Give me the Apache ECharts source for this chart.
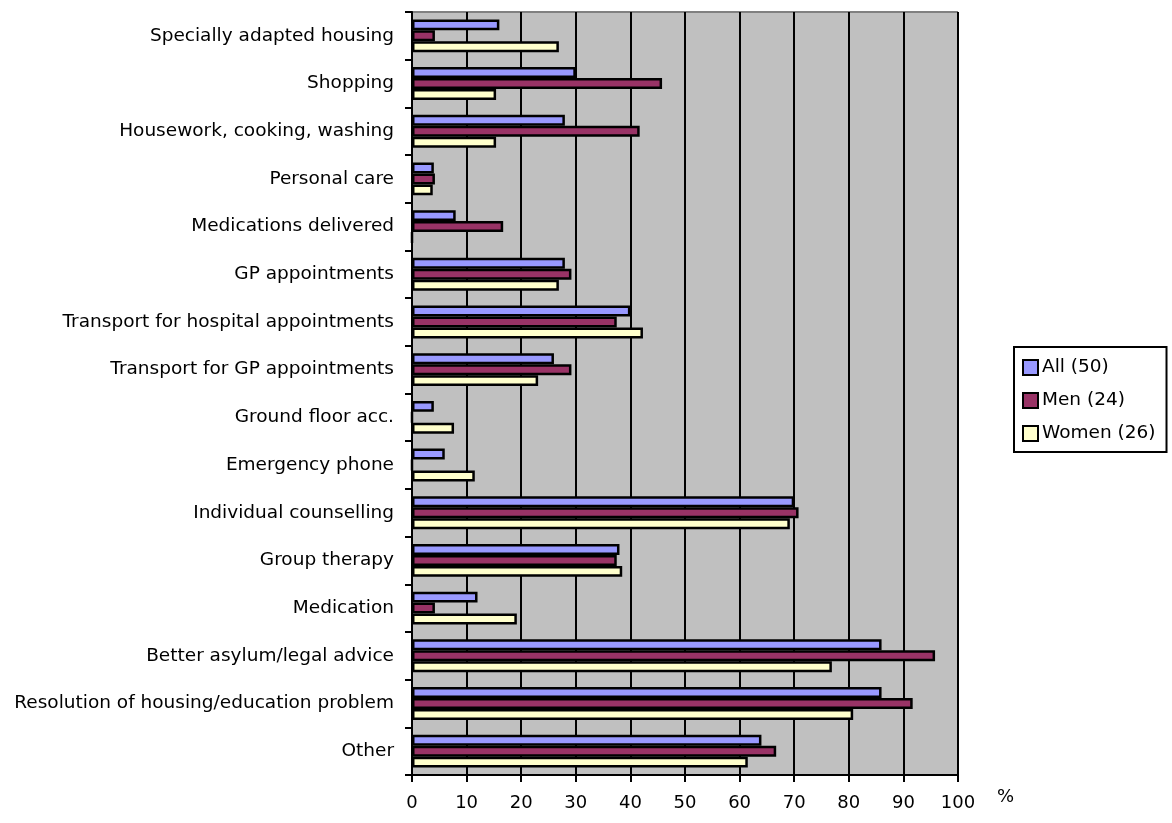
<!DOCTYPE html>
<html><head><meta charset="utf-8">
<script src="https://cdn.jsdelivr.net/npm/echarts@6/dist/echarts.min.js"></script>
<style>html,body{margin:0;padding:0;background:#fff}#c{width:1172px;height:823px}</style>
</head><body><div id="c"></div>
<script>
const categories = ["Specially adapted housing","Shopping","Housework, cooking, washing","Personal care","Medications delivered","GP appointments","Transport for hospital appointments","Transport for GP appointments","Ground floor acc.","Emergency phone","Individual counselling","Group therapy","Medication","Better asylum/legal advice","Resolution of housing/education problem","Other"];
const allVals   = [16, 30, 28, 4, 8, 28, 40, 26, 4, 6, 70, 38, 12, 86, 86, 64];
const menVals   = [4.2, 45.8, 41.7, 4.2, 16.7, 29.2, 37.5, 29.2, 0, 0, 70.8, 37.5, 4.2, 95.8, 91.7, 66.7];
const womenVals = [26.9, 15.4, 15.4, 3.8, 0, 26.9, 42.3, 23.1, 7.7, 11.5, 69.2, 38.5, 19.2, 76.9, 80.8, 61.5];
const seriesNames = ["All (50)", "Men (24)", "Women (26)"];
const colors = ["#9999FF", "#993366", "#FFFFCC"];
const xTicks = [0,10,20,30,40,50,60,70,80,90,100];

const font = "DejaVu Sans";
const chart = echarts.init(document.getElementById('c'), null, {renderer:'canvas'});
const mk = (name, data, i) => ({
  name, type:'bar', data, barGap:'0%', barCategoryGap:'31%',
  itemStyle:{color:colors[i], borderColor:'#000', borderWidth:2.5},
  emphasis:{disabled:true}, animation:false
});
chart.setOption({
  animation:false,
  textStyle:{fontFamily:font},
  grid:{left:412, top:12, width:546, height:763, backgroundColor:'#C0C0C0', show:true, borderColor:'#808080', borderWidth:0},
  legend:{
    orient:'vertical', left:1014, top:347, itemWidth:15, itemHeight:15, itemGap:12,
    padding:[10,11,8,8], borderColor:'#000', borderWidth:2,
    textStyle:{fontFamily:font, fontSize:18.5, lineHeight:21, color:'#000', padding:[0,0,0,-1]},
    icon:'rect',
    data:seriesNames.map((n,i)=>({name:n, itemStyle:{color:colors[i], borderColor:'#000', borderWidth:2}}))
  },
  xAxis:{
    type:'value', min:0, max:100, interval:10, name:'%', nameLocation:'end', nameGap:39,
    nameTextStyle:{fontFamily:font, fontSize:18, color:'#000', verticalAlign:'top', padding:[13,0,0,0]},
    axisLine:{show:true, lineStyle:{color:'#000', width:2}},
    axisTick:{show:true, length:7, lineStyle:{color:'#000', width:2}},
    axisLabel:{fontFamily:font, fontSize:18, color:'#000', margin:19, formatter:(v)=>xTicks.includes(v)?String(v):''},
    splitLine:{show:true, lineStyle:{color:'#000', width:2}}
  },
  yAxis:{
    type:'category', data:categories, inverse:true,
    axisLine:{show:true, lineStyle:{color:'#000', width:2}},
    axisTick:{show:true, length:7, lineStyle:{color:'#000', width:2}},
    axisLabel:{fontFamily:font, fontSize:18.5, color:'#000', margin:18}
  },
  series:[mk(seriesNames[0], allVals, 0), mk(seriesNames[1], menVals, 1), mk(seriesNames[2], womenVals, 2)],
  graphic:[
    {type:'line', shape:{x1:412,y1:12,x2:958,y2:12}, style:{stroke:'#808080', lineWidth:2}},
    {type:'line', shape:{x1:958,y1:12,x2:958,y2:775}, style:{stroke:'#808080', lineWidth:2}}
  ]
});
</script></body></html>
